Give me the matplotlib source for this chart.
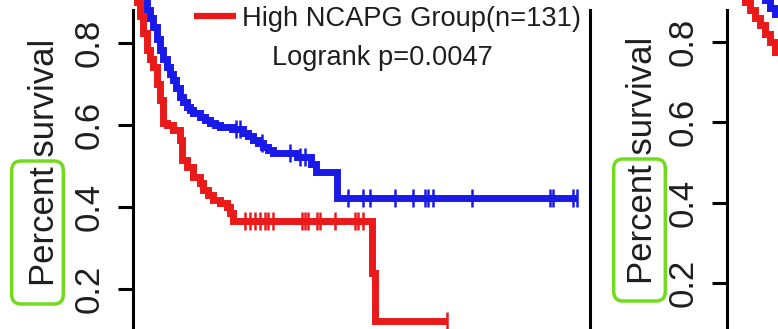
import numpy as np
import matplotlib
matplotlib.use("Agg")
import matplotlib.pyplot as plt
from matplotlib.patches import FancyBboxPatch

plt.rcParams['font.family'] = ['Liberation Sans', 'DejaVu Sans']

# ---------------- data ----------------
# Panel 1 (months)
blue_t = [0, 3.7, 4.5, 5.3, 6.2, 7.1, 8.0, 8.9, 9.7, 10.5, 11.4, 12.3, 13.2, 14.2,
          15.0, 15.8, 17.6, 19.0, 20.2, 21.5, 22.8, 26.0, 28.9, 30.2, 31.5, 32.8,
          34.1, 35.5, 36.8, 43.1, 46.8, 48.0, 53.6]
blue_s = [1.0, 0.88, 0.86, 0.839, 0.81, 0.783, 0.76, 0.741, 0.725, 0.71, 0.69, 0.668,
          0.655, 0.644, 0.636, 0.629, 0.62, 0.612, 0.605, 0.60, 0.595, 0.59, 0.58,
          0.572, 0.563, 0.555, 0.546, 0.54, 0.532, 0.522, 0.505, 0.485, 0.422]
blue_end = 116.6
blue_censor = [27.0, 28.1, 33.9, 41.2, 43.9, 45.2, 56.5, 60.4, 62.2, 68.8, 73.5,
               76.7, 77.5, 78.8, 89.0, 109.5, 110.3, 115.5, 116.6]

red_t = [0, 1.0, 1.8, 2.6, 3.7, 4.4, 5.25, 6.2, 7.1, 7.9, 8.9, 10.5, 12.3, 12.9,
         14.2, 15.8, 17.6, 18.4, 19.7, 21.0, 22.8, 24.7, 25.5, 26.3, 62.8, 63.6]
red_s = [1.0, 0.90, 0.865, 0.824, 0.783, 0.76, 0.741, 0.70, 0.661, 0.605, 0.60, 0.588,
         0.563, 0.515, 0.498, 0.473, 0.459, 0.441, 0.43, 0.417, 0.41, 0.40, 0.385,
         0.365, 0.24, 0.123]
red_end = 82.5
red_censor = [29.4, 30.7, 32.0, 33.3, 34.7, 35.5, 36.8, 44.4, 45.2, 46.0, 48.3, 49.1,
              53.0, 58.3, 59.1, 60.4, 82.5]

# Panel 2
red2_t = [0, 4.7, 6.0, 7.4, 8.7, 10.0, 11.3, 12.6]
red2_s = [1.0, 0.90, 0.88, 0.86, 0.842, 0.82, 0.80, 0.775]
red2_end = 14.5
blue2_t = [0, 10.0, 11.3, 12.6]
blue2_s = [1.0, 0.905, 0.885, 0.87]
blue2_end = 14.5

yticks = [0.2, 0.4, 0.6, 0.8]
ytick_labels = ["0.2", "0.4", "0.6", "0.8"]
ylabel = "Percent survival"
legend_labels = ["High NCAPG Group(n=131)"]
stat_text = "Logrank p=0.0047"

RED = '#ea1a1a'
BLUE = '#1a1ae8'
GREEN = '#72dc1c'
TXT = '#1e1e1e'

W, H = 778, 329
fig = plt.figure(figsize=(W / 100, H / 100), dpi=100)


def step_val(t, s, c):
    idx = np.searchsorted(np.asarray(t), c, side='right') - 1
    return np.asarray(s)[idx]


def km(ax, t, s, end, censor, color):
    tt = list(t) + [end]
    ss = list(s) + [s[-1]]
    line, = ax.step(tt, ss, where='post', color=color, lw=5.0, solid_joinstyle='miter',
                    solid_capstyle='butt')
    if censor:
        c = np.asarray(censor)
        ax.plot(c, step_val(t, s, c), linestyle='none', marker='|', ms=12.5, mew=1.8,
                color=color)
    return line


def style(ax, ylim, top_bound):
    ax.set_ylim(*ylim)
    ax.set_xlim(0, 120)
    ax.spines['top'].set_visible(False)
    ax.spines['bottom'].set_visible(False)
    for sp in ['left', 'right']:
        ax.spines[sp].set_linewidth(2.2)
        ax.spines[sp].set_bounds(ylim[0], top_bound)
    ax.set_xticks([])
    ax.set_yticks(yticks)
    ax.set_yticklabels(ytick_labels, rotation=90, va='center', fontsize=25, color=TXT)
    ax.tick_params(axis='y', length=11, width=2.2, pad=9, colors='black',
                   labelcolor=TXT)
    ax.patch.set_alpha(0)


# Panel 1
ax1 = fig.add_axes([133 / W, 0, 457 / W, 1])
style(ax1, (0.1024, 0.9049), 0.8805)
km(ax1, blue_t, blue_s, blue_end, blue_censor, BLUE)
red_line = km(ax1, red_t, red_s, red_end, red_censor, RED)
leg = ax1.legend([red_line], legend_labels, loc='upper left', frameon=False,
                 bbox_to_anchor=((194 - 133) / 457, (329 - 6) / 329), fontsize=19.6,
                 handlelength=1.55, handletextpad=0.2, borderpad=0, borderaxespad=0,
                 labelcolor=TXT)
for h in leg.legend_handles:
    h.set_linewidth(4.5)
ax1.text((272 - 133) / 457, (329 - 65) / 329, stat_text, transform=ax1.transAxes,
         fontsize=19.6, color=TXT, ha='left', va='baseline')

# Panel 2
ax2 = fig.add_axes([727 / W, 0, 457 / W, 1])
style(ax2, (0.0854, 0.9046), 0.880)
km(ax2, red2_t, red2_s, red2_end, [], RED)
km(ax2, blue2_t, blue2_s, blue2_end, [], BLUE)

# y labels
for xc, yc in [(45, 162), (643, 160)]:
    fig.text(xc / W, 1 - yc / H, ylabel, rotation=90, ha='center', va='center',
             fontsize=25, color=TXT)

# green highlight boxes
for x0, y0, x1, y1 in [(11.7, 161, 63.3, 304), (613.7, 159, 665.3, 301)]:
    box = FancyBboxPatch((x0 / W, 1 - y1 / H), (x1 - x0) / W, (y1 - y0) / H,
                         boxstyle="round,pad=0,rounding_size=0.012",
                         transform=fig.transFigure, fill=False, edgecolor=GREEN,
                         linewidth=2.5, mutation_aspect=W / H)
    fig.add_artist(box)

fig.savefig("out.png", dpi=100)
